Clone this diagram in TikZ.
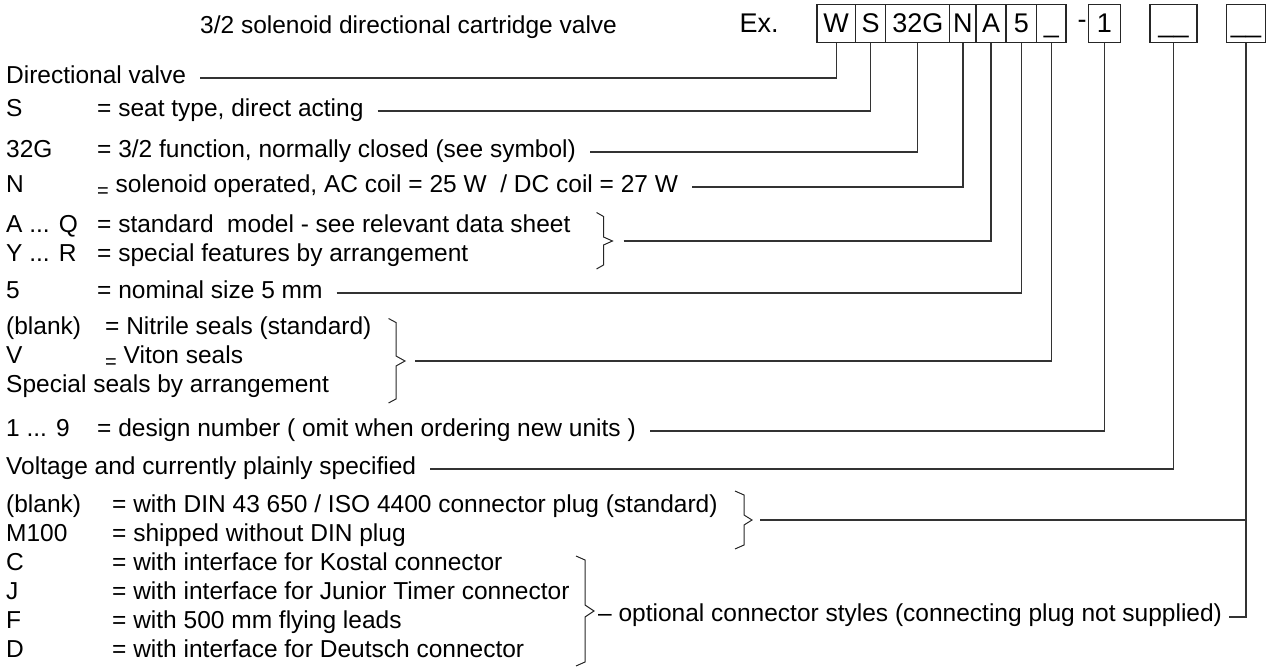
\documentclass[tikz,border=0pt]{standalone}
\usepackage{fontspec}
\setmainfont{Liberation Sans}
\usetikzlibrary{calc}
\newcommand{\loweq}{\raisebox{-5pt}{\fontsize{20}{20}\selectfont=}}
\begin{document}
\begin{tikzpicture}[x=1pt,y=-1pt,
  body/.style={font=\fontsize{24.5}{29}\selectfont, inner sep=0pt, text height=17.6pt, text depth=0pt, anchor=west},
  hdr/.style={font=\fontsize{27}{32}\selectfont, inner sep=0pt, text height=19.3pt, text depth=0pt},
  codebox/.style={hdr, draw=black!85, line width=1.1pt, minimum height=38pt},
  conn/.style={draw=black!80, line width=1.2pt},
  bracel/.style={draw=black!85, line width=1pt}]
\useasboundingbox (0,0) rectangle (1272,668);

% header
\node[body] (title) at (200,24.5) {3/2 solenoid directional cartridge valve};
\node[hdr] (ex) at (759,23.3) {Ex.};
\node[codebox, minimum width=38.5pt] (bW) at (836.2,23.3) {W};
\node[codebox, minimum width=30.2pt] (bS) at (870.6,23.3) {S};
\node[codebox, minimum width=64.1pt] (bG) at (917.8,23.3) {32G};
\node[codebox, minimum width=26.2pt] (bN) at (962.9,23.3) {N};
\node[codebox, minimum width=30pt] (bA) at (991,23.3) {A};
\node[codebox, minimum width=30.6pt] (b5) at (1021.3,23.3) {5};
\node[codebox, minimum width=29.4pt] (bU) at (1051.3,23.3) {\_};
\node[hdr] (hy) at (1082,18.8) {-};
\node[codebox, minimum width=31.3pt] (b1) at (1104.4,23.3) {1};
\node[codebox, minimum width=47pt] (e1) at (1173.5,23.3) {\_\_};
\node[codebox, minimum width=39pt] (e2) at (1246,23.3) {\_\_};

% rows
\node[body] (lDV) at (6,75) {Directional valve};
\node[body] (lS) at (6,108) {S};
\node[body] (dS) at (97,108) {= seat type, direct acting};
\node[body] (lG) at (6,149) {32G};
\node[body] (dG) at (97,149) {= 3/2 function, normally closed (see symbol)};
\node[body] (lN) at (6,184) {N};
\node[body] (dN) at (97,184) {\loweq{} solenoid operated, AC coil = 25 W\ \ / DC coil = 27 W};
\node[body] (lAQ) at (6,224) {A ... Q};
\node[body] (dAQ) at (97,224) {= standard\ \ model - see relevant data sheet};
\node[body] (lYR) at (6,253) {Y ... R};
\node[body] (dYR) at (97,253) {= special features by arrangement};
\node[body] (l5) at (6,290) {5};
\node[body] (d5) at (97,290) {= nominal size 5 mm};
\node[body] (lB1) at (6,326) {(blank)};
\node[body] (dB1) at (105,326) {= Nitrile seals (standard)};
\node[body] (lV) at (6,355) {V};
\node[body] (dV) at (105,355) {\loweq{} Viton seals};
\node[body] (lSp) at (6,384) {Special seals by arrangement};
\node[body] (l19) at (6,428) {1 ... 9};
\node[body] (d19) at (97,428) {= design number ( omit when ordering new units )};
\node[body] (lVo) at (6,466) {Voltage and currently plainly specified};
\node[body] (lB2) at (6,504) {(blank)};
\node[body] (dB2) at (112,504) {= with DIN 43 650 / ISO 4400 connector plug (standard)};
\node[body] (lM) at (6,533) {M100};
\node[body] (dM) at (112,533) {= shipped without DIN plug};
\node[body] (lC) at (6,562) {C};
\node[body] (dC) at (112,562) {= with interface for Kostal connector};
\node[body] (lJ) at (6,591) {J};
\node[body] (dJ) at (112,591) {= with interface for Junior Timer connector};
\node[body] (lF) at (6,620) {F};
\node[body] (dF) at (112,620) {= with 500 mm flying leads};
\node[body] (lD) at (6,649) {D};
\node[body] (dD) at (112,649) {= with interface for Deutsch connector};
\node[body] (opt) at (598,613) {\textendash{} optional connector styles (connecting plug not supplied)};

% braces
\draw[bracel] (596.5,212.5) -- (603.5,216.5) -- (603.5,237) -- (612.5,241) -- (603.5,245) -- (603.5,265) -- (596.5,269);
\coordinate (tAQ) at (612.5,241);
\draw[bracel] (388.5,318.5) -- (396,322.5) -- (396,356) -- (405,361) -- (396,366) -- (396,399) -- (388.5,403);
\coordinate (tSe) at (405,361);
\draw[bracel] (735,491) -- (744,495) -- (744,515) -- (752,520) -- (744,525) -- (744,545) -- (735,549);
\coordinate (tDIN) at (752,520);
\draw[bracel] (576,556) -- (585,560) -- (585,605) -- (594,611) -- (585,617) -- (585,662) -- (576,666);

% connectors
\draw[conn] ($(lDV.east)+(14,3)$) -| (bW.south);
\draw[conn] ($(dS.east)+(14,3)$) -| (bS.south);
\draw[conn] ($(dG.east)+(14,3)$) -| (bG.south);
\draw[conn] ($(dN.east)+(14,3)$) -| (bN.south);
\draw[conn] ($(tAQ)+(11,0)$) -| (bA.south);
\draw[conn] ($(d5.east)+(14,3)$) -| (b5.south);
\draw[conn] ($(tSe)+(10,0)$) -| (bU.south);
\draw[conn] ($(d19.east)+(14,3)$) -| (b1.south);
\draw[conn] ($(lVo.east)+(14,3)$) -| (e1.south);
\draw[conn] ($(tDIN)+(8,0)$) -- (tDIN -| e2.south);
\draw[conn] (e2.south) |- ($(opt.east)+(7,4)$);
\end{tikzpicture}
\end{document}
